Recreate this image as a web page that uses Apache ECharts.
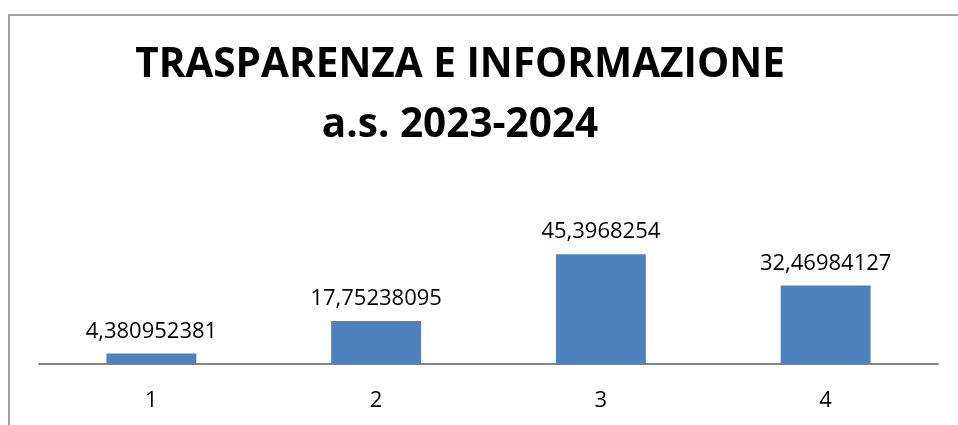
<!DOCTYPE html>
<html>
<head>
<meta charset="utf-8">
<script src="https://cdn.jsdelivr.net/npm/echarts@6/dist/echarts.min.js"></script>
<style>
  html, body { margin: 0; padding: 0; background: #fff; }
  #chart { width: 958px; height: 425px; }
</style>
</head>
<body>
<div id="chart"></div>
<script>
var categories = ["1", "2", "3", "4"];
var values = [4.380952381, 17.75238095, 45.3968254, 32.46984127];
var titleLines = ["TRASPARENZA E INFORMAZIONE", "a.s. 2023-2024"];

var chart = echarts.init(document.getElementById("chart"));
var option = {
  animation: false,
  backgroundColor: "#fff",
  title: {
    text: titleLines.join("\n"),
    left: 455,
    top: 30,
    textAlign: "center",
    textStyle: {
      fontFamily: "Open Sans",
      fontWeight: "bold",
      fontSize: 40.5,
      lineHeight: 60,
      color: "#000"
    }
  },
  // cornice del grafico
  graphic: [{
    type: "rect",
    shape: { x: 9, y: 15, width: 1000, height: 500 },
    style: { fill: "none", stroke: "#a0a0a0", lineWidth: 2 }
  }],
  grid: { left: 39, right: 20, top: 243, bottom: 61 },
  xAxis: {
    type: "category",
    data: categories,
    axisLine: { lineStyle: { color: "#868686", width: 2 } },
    axisTick: { show: false },
    axisLabel: { color: "#000", fontFamily: "Open Sans", fontSize: 22, margin: 26 }
  },
  yAxis: {
    type: "value",
    min: 0,
    max: 50,
    show: false,
    splitLine: { show: false }
  },
  series: [{
    type: "bar",
    data: values,
    barWidth: "40%",
    itemStyle: { color: "#4f81bd" },
    label: {
      show: true,
      position: "top",
      distance: 11,
      color: "#000",
      fontFamily: "Open Sans",
      fontSize: 22,
      formatter: function (p) { return String(p.value).replace(".", ","); }
    }
  }]
};
chart.setOption(option);
</script>
</body>
</html>
